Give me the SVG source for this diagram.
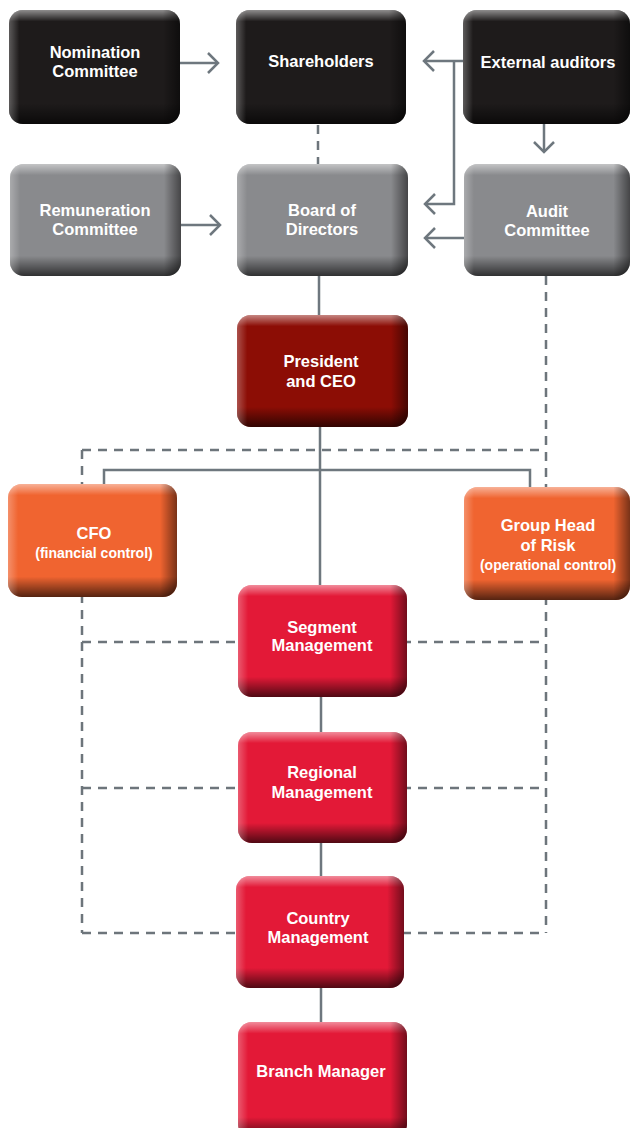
<svg xmlns="http://www.w3.org/2000/svg" width="630" height="1128" viewBox="0 0 630 1128">
<style>
.t{font-family:"Liberation Sans",Arial,Helvetica,sans-serif;font-weight:bold;font-size:16.5px;fill:#ffffff;text-anchor:middle}
.s{font-size:14px}
.dash{fill:none;stroke:#6d757b;stroke-width:2.5;stroke-dasharray:9 7}
.ln{fill:none;stroke:#6e777e;stroke-width:2.5}
.blk{fill:#1e1b1b}
.gry{fill:#898a8d}
.drd{fill:#8c0d05}
.org{fill:#f06430}
.red{fill:#e31937}
.gv{fill:url(#gv)}
.gh{fill:url(#gh)}
</style>
<defs>
<linearGradient id="gv" x1="0" y1="0" x2="0" y2="1">
<stop offset="0" stop-color="#ffffff" stop-opacity="0.5"/>
<stop offset="0.1" stop-color="#ffffff" stop-opacity="0"/>
<stop offset="0.82" stop-color="#000000" stop-opacity="0"/>
<stop offset="1" stop-color="#000000" stop-opacity="0.65"/>
</linearGradient>
<linearGradient id="gh" x1="0" y1="0" x2="1" y2="0">
<stop offset="0" stop-color="#ffffff" stop-opacity="0.28"/>
<stop offset="0.06" stop-color="#ffffff" stop-opacity="0"/>
<stop offset="0.9" stop-color="#000000" stop-opacity="0"/>
<stop offset="1" stop-color="#000000" stop-opacity="0.5"/>
</linearGradient>
<marker id="ar" markerUnits="userSpaceOnUse" viewBox="-12 -12 14 24" refX="0" refY="0" markerWidth="14" markerHeight="24" orient="auto">
<path d="M-10,-10 L0,0 L-10,10" fill="none" stroke="#6e777e" stroke-width="2.5"/>
</marker>
</defs>

<g id="connectors">
<path class="dash" d="M546,276 V933 M82,450 H546 M82,450 V933 M82,642 H546 M82,788 H546 M82,933 H546 M318,125 V164"/>
<path class="ln" d="M319,276 V315 M320,427 V585 M104,484 V470 H530 V487 M321,697 V732 M321,843 V876 M321,988 V1022"/>
<path class="ln" d="M180,63 H218" marker-end="url(#ar)"/>
<path class="ln" d="M181,225 H220" marker-end="url(#ar)"/>
<path class="ln" d="M463,61 H424" marker-end="url(#ar)"/>
<path class="ln" d="M454,61 V204 H425" marker-end="url(#ar)"/>
<path class="ln" d="M464,238 H425" marker-end="url(#ar)"/>
<path class="ln" d="M544,124 V152" marker-end="url(#ar)"/>
</g>

<g id="nomination">
<rect class="blk" x="9" y="10" width="171" height="114" rx="14"/>
<rect class="gv" x="9" y="10" width="171" height="114" rx="14"/>
<rect class="gh" x="9" y="10" width="171" height="114" rx="14"/>
<text class="t" x="95" y="58">Nomination</text>
<text class="t" x="95" y="77">Committee</text>
</g>
<g id="shareholders">
<rect class="blk" x="236" y="10" width="170" height="114" rx="14"/>
<rect class="gv" x="236" y="10" width="170" height="114" rx="14"/>
<rect class="gh" x="236" y="10" width="170" height="114" rx="14"/>
<text class="t" x="321" y="67">Shareholders</text>
</g>
<g id="external">
<rect class="blk" x="463" y="10" width="167" height="114" rx="14"/>
<rect class="gv" x="463" y="10" width="167" height="114" rx="14"/>
<rect class="gh" x="463" y="10" width="167" height="114" rx="14"/>
<text class="t" x="548" y="68">External auditors</text>
</g>
<g id="remuneration">
<rect class="gry" x="10" y="164" width="171" height="112" rx="14"/>
<rect class="gv" x="10" y="164" width="171" height="112" rx="14"/>
<rect class="gh" x="10" y="164" width="171" height="112" rx="14"/>
<text class="t" x="95" y="216">Remuneration</text>
<text class="t" x="95" y="235">Committee</text>
</g>
<g id="board">
<rect class="gry" x="237" y="164" width="171" height="112" rx="14"/>
<rect class="gv" x="237" y="164" width="171" height="112" rx="14"/>
<rect class="gh" x="237" y="164" width="171" height="112" rx="14"/>
<text class="t" x="322" y="216">Board of</text>
<text class="t" x="322" y="235">Directors</text>
</g>
<g id="audit">
<rect class="gry" x="464" y="164" width="166" height="112" rx="14"/>
<rect class="gv" x="464" y="164" width="166" height="112" rx="14"/>
<rect class="gh" x="464" y="164" width="166" height="112" rx="14"/>
<text class="t" x="547" y="217">Audit</text>
<text class="t" x="547" y="236">Committee</text>
</g>
<g id="president">
<rect class="drd" x="237" y="315" width="171" height="112" rx="14"/>
<rect class="gv" x="237" y="315" width="171" height="112" rx="14"/>
<rect class="gh" x="237" y="315" width="171" height="112" rx="14"/>
<text class="t" x="321" y="367">President</text>
<text class="t" x="321" y="387">and CEO</text>
</g>
<g id="cfo">
<rect class="org" x="8" y="484" width="169" height="113" rx="14"/>
<rect class="gv" x="8" y="484" width="169" height="113" rx="14"/>
<rect class="gh" x="8" y="484" width="169" height="113" rx="14"/>
<text class="t" x="94" y="539">CFO</text>
<text class="t s" x="94" y="558">(financial control)</text>
</g>
<g id="grouphead">
<rect class="org" x="464" y="487" width="166" height="113" rx="14"/>
<rect class="gv" x="464" y="487" width="166" height="113" rx="14"/>
<rect class="gh" x="464" y="487" width="166" height="113" rx="14"/>
<text class="t" x="548" y="531">Group Head</text>
<text class="t" x="548" y="551">of Risk</text>
<text class="t s" x="548" y="570">(operational control)</text>
</g>
<g id="segment">
<rect class="red" x="238" y="585" width="169" height="112" rx="14"/>
<rect class="gv" x="238" y="585" width="169" height="112" rx="14"/>
<rect class="gh" x="238" y="585" width="169" height="112" rx="14"/>
<text class="t" x="322" y="633">Segment</text>
<text class="t" x="322" y="651">Management</text>
</g>
<g id="regional">
<rect class="red" x="238" y="732" width="169" height="111" rx="14"/>
<rect class="gv" x="238" y="732" width="169" height="111" rx="14"/>
<rect class="gh" x="238" y="732" width="169" height="111" rx="14"/>
<text class="t" x="322" y="778">Regional</text>
<text class="t" x="322" y="798">Management</text>
</g>
<g id="country">
<rect class="red" x="236" y="876" width="168" height="112" rx="14"/>
<rect class="gv" x="236" y="876" width="168" height="112" rx="14"/>
<rect class="gh" x="236" y="876" width="168" height="112" rx="14"/>
<text class="t" x="318" y="924">Country</text>
<text class="t" x="318" y="943">Management</text>
</g>
<g id="branch">
<rect class="red" x="238" y="1022" width="169" height="116" rx="14"/>
<rect class="gv" x="238" y="1022" width="169" height="116" rx="14"/>
<rect class="gh" x="238" y="1022" width="169" height="116" rx="14"/>
<text class="t" x="321" y="1077">Branch Manager</text>
</g>
</svg>
